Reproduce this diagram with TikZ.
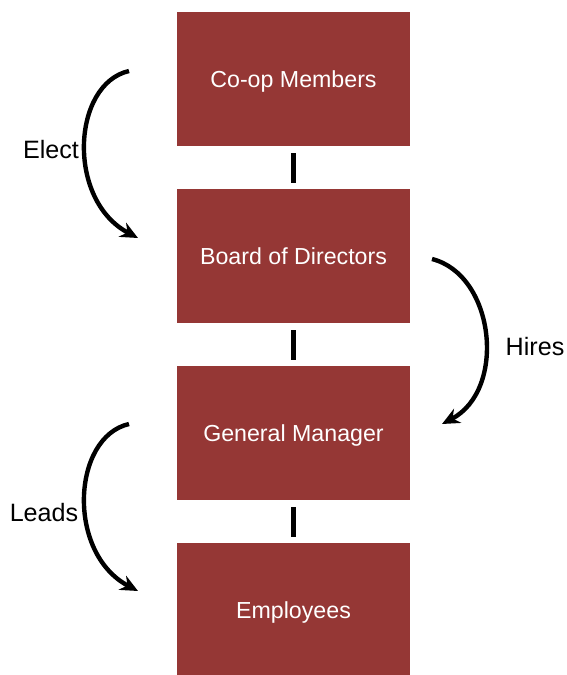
\documentclass[tikz,border=0pt]{standalone}
\usepackage{fontspec}
\setmainfont{Liberation Sans}
\usetikzlibrary{arrows.meta}

\begin{document}
\begin{tikzpicture}[x=0.02cm,y=-0.02cm,
    role/.style={rectangle,fill=coopred,text=white,minimum width=233*0.02cm,minimum height=134*0.02cm,inner sep=0pt,text depth=0pt,font=\fontsize{13.2}{16}\selectfont},
    link/.style={line width=2.8pt,shorten <=7*0.02cm,shorten >=6*0.02cm},
    flow/.style={line width=2.5pt,-{Stealth[length=10pt,width=9pt]}},
    verb/.style={font=\fontsize{14.3}{17}\selectfont}]
      \definecolor{coopred}{HTML}{953735}
      \useasboundingbox (0,0) rectangle (567,675);

      \node[role]         (members) at (293.5, 79)          {Co-op Members};
      \node[role]         (board)   at (293.5, 256)         {Board of Directors};
      \node[role]         (gm)      at (293.5, 433)         {General Manager};
      \node[role]         (staff)   at (293.5, 610)         {Employees};

      \coordinate (e1) at (129, 71);
      \coordinate (e2) at (138, 238);
      \coordinate (h1) at (432, 259);
      \coordinate (h2) at (442, 424);
      \coordinate (l1) at (129, 424);
      \coordinate (l2) at (138, 591);

      \node[verb]         (elect)   at (51, 150)            {Elect};
      \node[verb]         (hires)   at (535, 347)           {Hires};
      \node[verb]         (leads)   at (44, 513)            {Leads};

      \draw[link] (members.south) -- (board.north);
      \draw[link] (board.south) -- (gm.north);
      \draw[link] (gm.south) -- (staff.north);

      \draw[flow] (e1) .. controls (72, 84) and (66, 200) .. (e2);
      \draw[flow] (h1) .. controls (495, 275) and (507, 390) .. (h2);
      \draw[flow] (l1) .. controls (72, 437) and (66, 553) .. (l2);
    \end{tikzpicture}
\end{document}
